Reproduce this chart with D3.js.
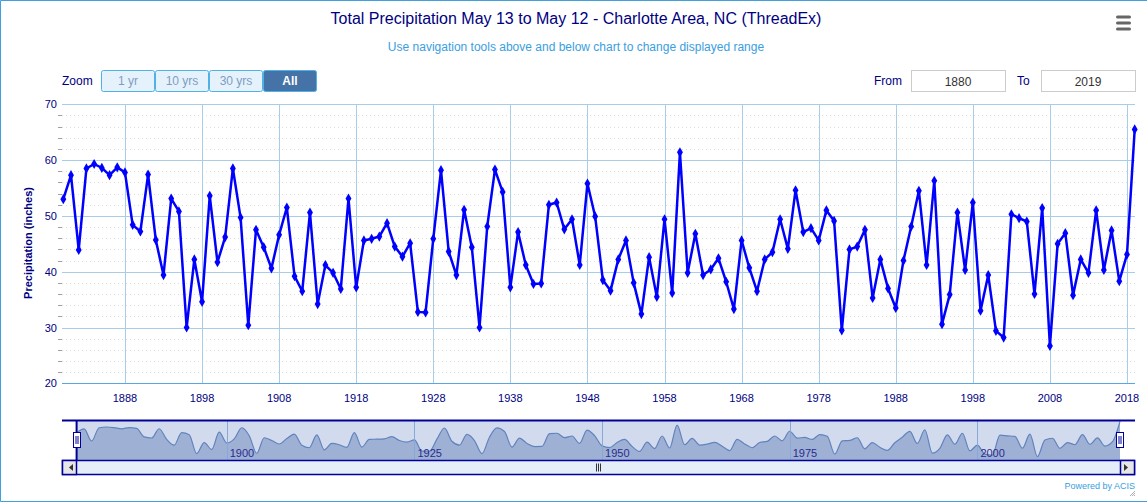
<!DOCTYPE html>
<html>
<head>
<meta charset="utf-8">
<script src="https://cdn.jsdelivr.net/npm/d3@7"></script>
<style>
  body { margin: 0; background: #fff; }
  svg { display: block; font-family: "Liberation Sans", Arial, sans-serif; }
</style>
</head>
<body>
<div id="chart"></div>
<script>
// Total precipitation (inches), one value per year starting 1880
const startYear = 1880;
const precip = [
  53.0, 57.3, 43.9, 58.5, 59.3, 58.6, 57.3, 58.7, 57.8, 48.4,
  47.2, 57.4, 45.7, 39.4, 53.1, 50.8, 30.0, 42.2, 34.6, 53.6,
  41.7, 46.2, 58.5, 49.7, 30.4, 47.5, 44.4, 40.6, 46.6, 51.5,
  39.2, 36.5, 50.6, 34.2, 41.2, 39.8, 36.9, 53.1, 37.2, 45.6,
  45.9, 46.3, 48.7, 44.5, 42.7, 45.1, 32.8, 32.7, 45.9, 58.2,
  43.6, 39.4, 51.1, 44.4, 30.0, 48.1, 58.3, 54.3, 37.2, 47.1,
  41.2, 37.8, 37.9, 52.0, 52.4, 47.6, 49.4, 41.2, 55.8, 49.9,
  38.5, 36.6, 42.2, 45.6, 38.0, 32.4, 42.6, 35.5, 49.4, 36.2,
  61.4, 39.8, 46.8, 39.4, 40.4, 42.4, 38.2, 33.3, 45.6, 40.7,
  36.5, 42.2, 43.5, 49.4, 44.1, 54.6, 47.1, 47.8, 45.6, 51.0,
  49.1, 29.5, 44.0, 44.5, 47.5, 35.3, 42.2, 37.0, 33.5, 42.0,
  48.1, 54.5, 41.2, 56.3, 30.6, 35.9, 50.6, 40.3, 52.4, 33.0,
  39.4, 29.4, 28.2, 50.3, 49.6, 49.0, 36.0, 51.4, 26.7, 45.0,
  46.9, 35.8, 42.2, 39.8, 51.0, 40.3, 47.4, 38.3, 43.1, 65.5
];
const xTicks = [1888, 1898, 1908, 1918, 1928, 1938, 1948, 1958, 1968, 1978, 1988, 1998, 2008, 2018];
const yTicks = [20, 30, 40, 50, 60, 70];
const navTicks = [1900, 1925, 1950, 1975, 2000];
const zoomButtons = ["1 yr", "10 yrs", "30 yrs", "All"];
const rangeFrom = "1880";
const rangeTo = "2019";

const data = precip.map((v, i) => ({ year: startYear + i, value: v }));

const W = 1147, H = 503;
const navy = "#00007f";
const grid = "#a9cce9";

const svg = d3.select("#chart").append("svg").attr("width", W).attr("height", H);

// outer border
svg.append("path")
  .attr("d", `M${W},0.5 H0.5 V${H - 1.5} H${W}`)
  .attr("fill", "none").attr("stroke", "#3fa0dc").attr("stroke-width", 1);

// title + subtitle
svg.append("text").attr("x", 576).attr("y", 24).attr("text-anchor", "middle")
  .attr("font-size", 16).attr("fill", navy)
  .text("Total Precipitation May 13 to May 12 - Charlotte Area, NC (ThreadEx)");
svg.append("text").attr("x", 576).attr("y", 51).attr("text-anchor", "middle")
  .attr("font-size", 12).attr("fill", "#3a9ee0")
  .text("Use navigation tools above and below chart to change displayed range");

// hamburger menu
[17, 23, 29].forEach((yy) => {
  svg.append("rect").attr("x", 1116).attr("y", yy - 1.5).attr("width", 15).attr("height", 3)
    .attr("rx", 1.5).attr("fill", "#666");
});

// range selector buttons
svg.append("text").attr("x", 62).attr("y", 85).attr("font-size", 12).attr("fill", navy).text("Zoom");
const btn = svg.append("g").selectAll("g").data(zoomButtons).enter().append("g")
  .attr("transform", (d, i) => `translate(${101 + i * 54},70)`);
btn.append("rect").attr("x", 0.5).attr("y", 0.5).attr("width", 53).attr("height", 21).attr("rx", 2)
  .attr("fill", (d) => (d === "All" ? "#4572a7" : "#e6f2fb"))
  .attr("stroke", "#4fb2e6");
btn.append("text").attr("x", 27).attr("y", 15).attr("text-anchor", "middle").attr("font-size", 12)
  .attr("font-weight", (d) => (d === "All" ? "bold" : "normal"))
  .attr("fill", (d) => (d === "All" ? "#fff" : "#7d9dc3"))
  .text((d) => d);

// from / to inputs
svg.append("text").attr("x", 874).attr("y", 85).attr("font-size", 12).attr("fill", navy).text("From");
svg.append("text").attr("x", 1017).attr("y", 85).attr("font-size", 12).attr("fill", navy).text("To");
[[911, rangeFrom], [1041, rangeTo]].forEach(([bx, label]) => {
  svg.append("rect").attr("x", bx + 0.5).attr("y", 70.5).attr("width", 94).attr("height", 21)
    .attr("fill", "#fff").attr("stroke", "#cccccc");
  svg.append("text").attr("x", bx + 47).attr("y", 85.5).attr("text-anchor", "middle")
    .attr("font-size", 12).attr("fill", "#333").text(label);
});

// ---- main plot ----
const x = d3.scaleLinear().domain([1880, 2019]).range([63.3, 1134.7]);
const y = d3.scaleLinear().domain([20, 70]).range([383.3, 104.3]);
const plotL = 62, plotR = 1135;

// minor dotted grid every 2 inches
const minor = d3.range(20, 70, 2).filter((v) => v % 10 !== 0);
svg.append("g").selectAll("line").data(minor).enter().append("line")
  .attr("x1", plotL).attr("x2", plotR)
  .attr("y1", (d) => Math.round(y(d)) + 0.5).attr("y2", (d) => Math.round(y(d)) + 0.5)
  .attr("stroke", "#dcdcdc").attr("stroke-dasharray", "1,3");
svg.append("g").selectAll("line").data(minor).enter().append("line")
  .attr("x1", plotL - 4).attr("x2", plotL)
  .attr("y1", (d) => Math.round(y(d)) + 0.5).attr("y2", (d) => Math.round(y(d)) + 0.5)
  .attr("stroke", "#a0a0a0");

// vertical grid
svg.append("g").selectAll("line").data(xTicks).enter().append("line")
  .attr("x1", (d) => Math.round(x(d)) + 0.5).attr("x2", (d) => Math.round(x(d)) + 0.5)
  .attr("y1", 104).attr("y2", 383)
  .attr("stroke", grid);

// horizontal grid
svg.append("g").selectAll("line").data(yTicks).enter().append("line")
  .attr("x1", plotL).attr("x2", plotR)
  .attr("y1", (d) => Math.round(y(d)) + 0.5).attr("y2", (d) => Math.round(y(d)) + 0.5)
  .attr("stroke", (d) => (d === 20 ? "#5aa6e0" : grid));

// y labels
svg.append("g").selectAll("text").data(yTicks).enter().append("text")
  .attr("x", 57).attr("y", (d) => y(d) + 4).attr("text-anchor", "end")
  .attr("font-size", 11).attr("fill", navy).text((d) => d);

// x labels
svg.append("g").selectAll("text").data(xTicks).enter().append("text")
  .attr("x", (d) => x(d)).attr("y", 402).attr("text-anchor", "middle")
  .attr("font-size", 11).attr("fill", navy).text((d) => d);

// y axis title
svg.append("text").attr("transform", "translate(32,243) rotate(-90)")
  .attr("text-anchor", "middle").attr("font-size", 11).attr("font-weight", "bold")
  .attr("fill", navy).text("Precipitation (inches)");

// series line
const line = d3.line().x((d) => x(d.year)).y((d) => y(d.value));
svg.append("path").datum(data).attr("d", line)
  .attr("fill", "none").attr("stroke", "#0000ff").attr("stroke-width", 2.5)
  .attr("stroke-linejoin", "round");
svg.append("g").selectAll("path").data(data).enter().append("path")
  .attr("transform", (d) => `translate(${x(d.year)},${y(d.value)})`)
  .attr("d", d3.symbol().type(d3.symbolDiamond).size(30))
  .attr("fill", "#0000ff");

// ---- navigator ----
const nx = d3.scaleLinear().domain([1880, 2019]).range([76.6, 1120]);
const ny = d3.scaleLinear().domain([23, 67]).range([460, 420]);

svg.append("rect").attr("x", 76.6).attr("y", 420).attr("width", 1120 - 76.6).attr("height", 40)
  .attr("fill", "#d2dbed");

const area = d3.area().curve(d3.curveMonotoneX)
  .x((d) => nx(d.year)).y0(460).y1((d) => ny(d.value));
svg.append("path").datum(data).attr("d", area).attr("fill", "#9eb1d5");
svg.append("path").datum(data).attr("d", area.lineY1())
  .attr("fill", "none").attr("stroke", "#6183bd").attr("stroke-width", 1.2);

svg.append("g").selectAll("line").data(navTicks).enter().append("line")
  .attr("x1", (d) => Math.round(nx(d)) + 0.5).attr("x2", (d) => Math.round(nx(d)) + 0.5)
  .attr("y1", 420).attr("y2", 460).attr("stroke", "#88a9d8").attr("stroke-width", 1);
svg.append("g").selectAll("text").data(navTicks).enter().append("text")
  .attr("x", (d) => nx(d) + 3).attr("y", 457).attr("font-size", 11)
  .attr("fill", "#2b2b8c").text((d) => d);

// navigator outline
svg.append("path")
  .attr("d", "M62,420.5 H1135 M76.6,420 V460")
  .attr("fill", "none").attr("stroke", "#000099").attr("stroke-width", 2);

// handles
[76.6, 1120].forEach((hx) => {
  const g = svg.append("g").attr("transform", `translate(${Math.round(hx) - 4},432)`);
  g.append("rect").attr("x", 0.5).attr("y", 0.5).attr("width", 7).attr("height", 15)
    .attr("fill", "#fff").attr("stroke", "#000099");
  g.append("path").attr("d", "M3,4 V12 M5,4 V12").attr("stroke", "#000099").attr("stroke-width", 1);
});

// scrollbar
svg.append("rect").attr("x", 62.5).attr("y", 460.5).attr("width", 1072).attr("height", 14)
  .attr("fill", "#e4eef9").attr("stroke", "#000099").attr("stroke-width", 1.5);
[[62.5, "M73,464 L73,471 L69,467.5 Z"], [1120.5, "M1124,464 L1124,471 L1128,467.5 Z"]].forEach(([bx, tri]) => {
  svg.append("rect").attr("x", bx).attr("y", 460.5).attr("width", 14).attr("height", 14)
    .attr("fill", "#e6e6e6").attr("stroke", "#000099").attr("stroke-width", 1.5);
  svg.append("path").attr("d", tri).attr("fill", "#333");
});
svg.append("path").attr("d", "M596.5,463.5 V471.5 M598.5,463.5 V471.5 M600.5,463.5 V471.5")
  .attr("stroke", "#333").attr("stroke-width", 1);

// credits
svg.append("text").attr("x", 1135).attr("y", 489).attr("text-anchor", "end")
  .attr("font-size", 9).attr("fill", "#3a9ee0").text("Powered by ACIS");
svg.append("path").attr("d", "M1130,496 L1135,491 M1132,496 L1135,493 M1134,496 L1135,495")
  .attr("stroke", "#999").attr("stroke-width", 0.8);
</script>
</body>
</html>
